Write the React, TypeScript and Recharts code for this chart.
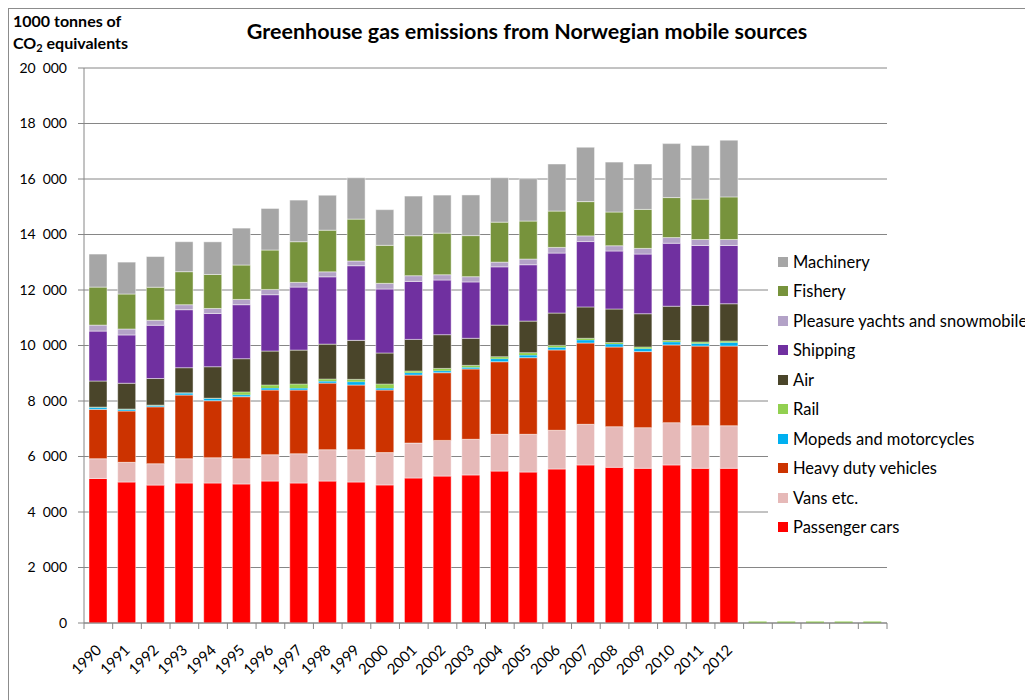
import React from "react";
import { BarChart, Bar, XAxis, YAxis, CartesianGrid } from "recharts";

const years = ["1990","1991","1992","1993","1994","1995","1996","1997","1998","1999","2000","2001","2002","2003","2004","2005","2006","2007","2008","2009","2010","2011","2012"];
const blankSlots = ["", "", "", "", ""];
const yTicks = [0, 2000, 4000, 6000, 8000, 10000, 12000, 14000, 16000, 18000, 20000];

const passengerCars = [5210,5080,4970,5045,5045,5010,5115,5045,5115,5080,4975,5225,5295,5335,5475,5440,5550,5695,5610,5575,5695,5575,5575];
const vans = [710,710,770,875,910,910,950,1055,1130,1165,1165,1260,1285,1285,1325,1360,1395,1465,1465,1465,1525,1535,1535];
const heavyDuty = [1780,1850,2050,2295,2055,2235,2330,2295,2400,2330,2255,2450,2440,2535,2615,2760,2895,2930,2870,2740,2800,2870,2870];
const mopeds = [70,60,50,70,80,70,70,70,70,120,70,85,70,60,110,95,95,110,110,110,110,95,130];
const rail = [10,10,10,10,10,100,110,145,75,85,145,60,85,70,70,85,70,60,50,55,50,50,50];
const air = [940,930,960,905,1135,1200,1225,1225,1260,1405,1120,1140,1215,975,1140,1140,1165,1130,1210,1200,1235,1320,1345];
const shipping = [1800,1740,1920,2090,1920,1945,2030,2270,2425,2690,2305,2090,1970,2030,2100,2030,2160,2355,2090,2150,2270,2160,2100];
const pleasure = [215,215,180,180,180,190,190,170,180,170,205,205,190,190,170,205,205,205,190,205,205,215,215];
const fishery = [1370,1260,1190,1190,1225,1240,1420,1465,1500,1510,1370,1440,1500,1480,1440,1370,1310,1235,1215,1405,1440,1455,1535];
const machinery = [1190,1150,1105,1080,1175,1330,1500,1500,1260,1490,1285,1430,1370,1465,1600,1525,1695,1960,1800,1635,1945,1935,2045];

const series = [
  { key: "cars", name: "Passenger cars", color: "#FF0000", values: passengerCars },
  { key: "vans", name: "Vans etc.", color: "#E6B9B8", values: vans },
  { key: "heavy", name: "Heavy duty vehicles", color: "#CC3300", values: heavyDuty },
  { key: "mopeds", name: "Mopeds and motorcycles", color: "#00B0F0", values: mopeds },
  { key: "rail", name: "Rail", color: "#92D050", values: rail },
  { key: "air", name: "Air", color: "#4A452A", values: air },
  { key: "shipping", name: "Shipping", color: "#7030A0", values: shipping },
  { key: "pleasure", name: "Pleasure yachts and snowmobiles", color: "#B3A2C7", values: pleasure },
  { key: "fishery", name: "Fishery", color: "#77933C", values: fishery },
  { key: "machinery", name: "Machinery", color: "#A6A6A6", values: machinery },
];

const categories = [...years, ...blankSlots];
const data = categories.map((label, i) => {
  const row: Record<string, any> = { label };
  series.forEach((s) => {
    if (i < years.length) row[s.key] = s.values[i];
    else row[s.key] = s.key === "rail" ? 0 : null;
  });
  return row;
});

const FONT = "Lato, 'Open Sans', sans-serif";
const AXIS_GRAY = "#868686";

const fmt = (v: number) => {
  const s = String(v);
  return s.length > 3 ? s.slice(0, s.length - 3) + "\u2002" + s.slice(s.length - 3) : s;
};

function XTick(props: any) {
  const { x, y, payload, index, width, visibleTicksCount } = props;
  const band = width && visibleTicksCount ? width / visibleTicksCount : 28.7;
  const lx = x - band / 2;
  const label = payload?.value ?? "";
  const ax = x + 4;
  const ay = y + 28;
  return (
    <g>
      <line x1={lx} x2={lx} y1={y} y2={y + 6} stroke={AXIS_GRAY} />
      {index === visibleTicksCount - 1 && (
        <line x1={x + band / 2} x2={x + band / 2} y1={y} y2={y + 6} stroke={AXIS_GRAY} />
      )}
      {label !== "" && (
        <text
          x={ax}
          y={ay}
          textAnchor="end"
          transform={`rotate(-45, ${ax}, ${ay})`}
          fontFamily={FONT}
          fontSize={15}
          fill="#000"
        >
          {label}
        </text>
      )}
    </g>
  );
}

export default function App() {
  const legendItems = [...series].reverse();
  return (
    <div style={{ position: "relative", width: 1025, height: 692, overflow: "hidden", background: "#fff" }}>
      <div
        style={{
          position: "absolute",
          left: 0,
          top: 0,
          width: 1100,
          height: 800,
          borderTop: "1px solid #8c8c8c",
          borderLeft: "1px solid #8c8c8c",
          boxSizing: "border-box",
        }}
      />
      <BarChart
        width={1025}
        height={692}
        data={data}
        margin={{ top: 60, right: 146, bottom: 7, left: 16 }}
        barSize={18}
        style={{ position: "absolute", left: 0, top: 0 }}
      >
        <CartesianGrid vertical={false} stroke={AXIS_GRAY} strokeDasharray="" />
        <XAxis
          dataKey="label"
          interval={0}
          height={70}
          axisLine={{ stroke: AXIS_GRAY }}
          tickLine={false}
          tickSize={0}
          tickMargin={0}
          tick={<XTick />}
        />
        <YAxis
          width={60}
          domain={[0, 20000]}
          ticks={yTicks}
          interval={0}
          axisLine={{ stroke: AXIS_GRAY }}
          tickLine={{ stroke: AXIS_GRAY }}
          tickSize={6}
          tickMargin={11}
          tickFormatter={fmt}
          tick={{ fontFamily: FONT, fontSize: 14, fill: "#000" }}
        />
        {series.map((s) => (
          <Bar
            key={s.key}
            dataKey={s.key}
            name={s.name}
            stackId="a"
            fill={s.color}
            stroke={s.key === "rail" ? "none" : "#ffffff"}
            strokeOpacity={0.45}
            strokeWidth={1}
            isAnimationActive={false}
            minPointSize={s.key === "rail" ? ((v: any) => (v === 0 ? 1.5 : 0)) as any : undefined}
          />
        ))}
      </BarChart>

      <div
        style={{
          position: "absolute",
          left: 0,
          width: 1025,
          top: 11,
          textAlign: "center",
          paddingLeft: 13,
          boxSizing: "border-box",
          fontFamily: FONT,
          fontWeight: 700,
          fontSize: 21.5,
          lineHeight: "24px",
          color: "#000",
          whiteSpace: "nowrap",
        }}
      >
        Greenhouse gas emissions from Norwegian mobile sources
      </div>

      <div
        style={{
          position: "absolute",
          left: 5,
          top: 2,
          fontFamily: FONT,
          fontWeight: 700,
          fontSize: 16,
          lineHeight: "22px",
          color: "#000",
          whiteSpace: "nowrap",
        }}
      >
        <div>1000 tonnes of</div>
        <div>
          CO<sub style={{ fontSize: 11, verticalAlign: "-3px" }}>2</sub> equivalents
        </div>
      </div>

      <div
        style={{
          position: "absolute",
          left: 760,
          top: 238,
          width: 300,
          height: 302,
          background: "#fff",
        }}
      >
        {legendItems.map((s, i) => (
          <div
            key={s.key}
            style={{
              position: "absolute",
              left: 10,
              top: 5.5 + i * 29.5,
              height: 20,
              display: "flex",
              alignItems: "center",
              whiteSpace: "nowrap",
              fontFamily: FONT,
              fontSize: 16.5,
              color: "#000",
            }}
          >
            <span style={{ display: "inline-block", width: 10, height: 10, background: s.color, marginRight: 5 }} />
            <span>{s.name}</span>
          </div>
        ))}
      </div>
    </div>
  );
}
